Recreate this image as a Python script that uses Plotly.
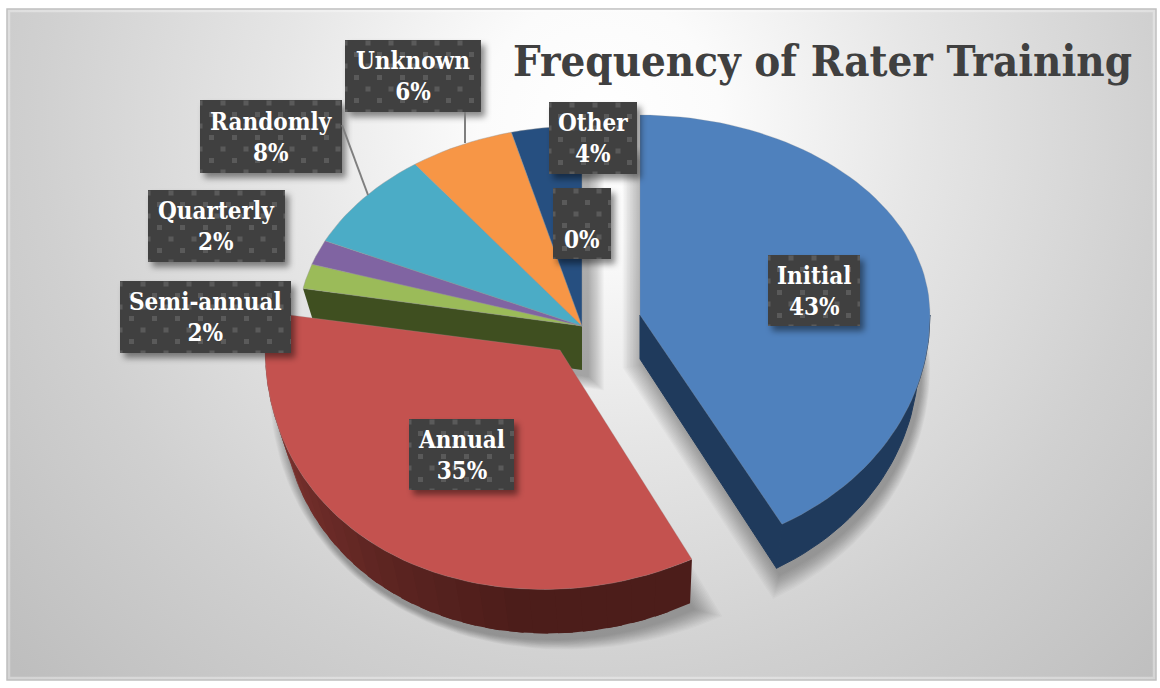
import base64
import math
import plotly.graph_objects as go

# ---- data ----
categories = ["Initial", "Annual", "Semi-annual", "Quarterly", "Randomly", "Unknown", "Other", ""]
shares = [43, 35, 2, 2, 8, 6, 4, 0]
title_text = "Frequency of Rater Training"

# ---- styles / layout ----
top_colors = ["#4f81bd", "#c4524f", "#9bbb59", "#8064a2", "#4bacc6", "#f79646", "#264f80", "#264f80"]
apexes = [(640, 315), (560, 350), (582, 326), (582, 326), (582, 326), (582, 326), (582, 326), (582, 326)]
radii_x = [290, 295, 284, 284, 284, 284, 284, 284]
label_boxes = [(768, 255, 860, 326), (409, 419, 514, 490), (120, 281, 291, 353), (148, 190, 285, 262),
               (200, 100, 342, 173), (345, 40, 481, 112), (549, 102, 637, 174), (553, 188, 611, 259)]
leaders = [((465, 112), (465, 143)), ((342, 125), (368, 195))]
RY, PERSP, VX, DEPTH, SHRINK = 200, 0.165, 645, 44, 0.96
SERIF = "'DejaVu Serif Condensed', 'Liberation Serif', serif"


def top_pt(ax, ay, deg, rx):
    t = math.radians(deg)
    u, v = math.sin(t), math.cos(t)
    w = 1 - PERSP * v * v if v < 0 else 1
    return VX + (ax + rx * u - VX) / w, ay - RY * v / w


def bot_pt(ax, ay, deg, rx):
    x, y = top_pt(ax, ay, deg, rx)
    return VX + (x - VX) * SHRINK, y + DEPTH


def arc(ax, ay, a0, a1, rx, fn=top_pt):
    n = max(2, int(abs(a1 - a0) / 2))
    return [fn(ax, ay, a0 + (a1 - a0) * i / n, rx) for i in range(n + 1)]


def poly(pts, fill, line=None, lw=0.0):
    xs = [p[0] for p in pts] + [pts[0][0]]
    ys = [p[1] for p in pts] + [pts[0][1]]
    return go.Scatter(x=xs, y=ys, mode="lines", fill="toself", fillcolor=fill,
                      line=dict(color=line or "rgba(0,0,0,0)", width=lw),
                      hoverinfo="skip", showlegend=False)


def lerp_col(c0, c1, f):
    return "rgb(%d,%d,%d)" % tuple(round(a + (b - a) * f) for a, b in zip(c0, c1))


# angular spans from the shares
spans = []
acc = 0.0
total = sum(shares)
for s in shares:
    spans.append((acc, acc + 360.0 * s / total))
    acc += 360.0 * s / total

fig = go.Figure()

# soft shadows
groups = [(apexes[0], radii_x[0], spans[0][0], spans[0][1]),
          (apexes[1], radii_x[1], spans[1][0], spans[1][1]),
          (apexes[2], radii_x[2], spans[2][0], spans[6][1])]
for (ax, ay), rx, a0, a1 in groups:
    outline = arc(ax, ay, a0, a1, rx, bot_pt) + [(VX + (ax - VX) * SHRINK, ay + DEPTH)]
    cx = sum(p[0] for p in outline) / len(outline)
    cy = sum(p[1] for p in outline) / len(outline)
    for i in range(14, 0, -1):
        k = 1 + 0.0075 * i
        pts = [(cx + (x - cx) * k + 3, cy + (y - cy) * k + 6) for x, y in outline]
        fig.add_trace(poly(pts, "rgba(0,0,0,0.024)"))

# main group: front wall of last radial edge, then its tops
ax, ay = apexes[2]
rx = radii_x[2]
a_left = spans[2][0]
fig.add_trace(poly([(ax, ay), top_pt(ax, ay, a_left, rx), bot_pt(ax, ay, a_left, rx), (ax, ay + DEPTH)], "#3f4f20"))
for i in range(2, 8):
    if shares[i] == 0:
        continue
    a0, a1 = spans[i]
    ax, ay = apexes[i]
    fig.add_trace(poly([(ax, ay)] + arc(ax, ay, a0, a1, radii_x[i]), top_colors[i], "rgba(150,150,150,0.7)", 0.6))

# Initial slice: wall along the front radial edge and the rim, then the top
ax, ay = apexes[0]
rx = radii_x[0]
a0, a1 = spans[0]
fig.add_trace(poly([(ax, ay), top_pt(ax, ay, a1, rx), bot_pt(ax, ay, a1, rx), (ax, ay + DEPTH)], "#1f3a5c", "#1f3a5c", 1))
fig.add_trace(poly(arc(ax, ay, 90, a1, rx) + arc(ax, ay, a1, 90, rx, bot_pt), "#1f3a5c", "#1f3a5c", 1))
fig.add_trace(poly([(ax, ay)] + arc(ax, ay, a0, a1, rx), top_colors[0], "rgba(150,150,150,0.5)", 0.5))

# Annual slice: shaded rim (each piece overlaps the next one), then the top
ax, ay = apexes[1]
rx = radii_x[1]
a0, a1 = spans[1]
n_seg = 30
rim_a0, rim_a1 = a0, 280.0
for j in range(n_seg - 1, -1, -1):
    b0 = rim_a0 + (rim_a1 - rim_a0) * j / n_seg
    b1 = rim_a0 + (rim_a1 - rim_a0) * (j + 1.6) / n_seg
    b1 = min(b1, rim_a1)
    f = max(0.0, (j / (n_seg - 1) - 0.2) / 0.8)
    col = lerp_col((76, 29, 26), (150, 62, 58), f ** 1.1)
    fig.add_trace(poly(arc(ax, ay, b0, b1, rx) + arc(ax, ay, b1, b0, rx, bot_pt), col))
fig.add_trace(poly([(ax, ay)] + arc(ax, ay, a0, a1, rx), top_colors[1], "rgba(150,150,150,0.5)", 0.5))


# ---- backgrounds / label plates ----
def svg_uri(svg):
    return "data:image/svg+xml;base64," + base64.b64encode(svg.encode()).decode()


bg_svg = (
    '<svg xmlns="http://www.w3.org/2000/svg" width="1160" height="688">'
    '<defs><radialGradient id="g" gradientUnits="userSpaceOnUse" cx="600" cy="120" r="800">'
    '<stop offset="0" stop-color="#ffffff"/><stop offset="0.15" stop-color="#fbfbfb"/>'
    '<stop offset="0.4" stop-color="#e6e6e6"/><stop offset="0.7" stop-color="#d0d0d0"/>'
    '<stop offset="1" stop-color="#bebebe"/>'
    '</radialGradient></defs>'
    '<rect width="1160" height="688" fill="#ffffff"/>'
    '<rect x="7" y="9" width="1149" height="671" fill="url(#g)" stroke="#bfbfbf" stroke-width="1.5"/>'
    '<rect x="9" y="11" width="1145" height="667" fill="none" stroke="#ffffff" stroke-opacity="0.35" stroke-width="2.5"/>'
    '</svg>'
)
images = [dict(source=svg_uri(bg_svg), xref="x", yref="y", x=0, y=0, sizex=1160, sizey=688,
               sizing="stretch", xanchor="left", yanchor="top", layer="below")]

PAD = 14
for x0, y0, x1, y1 in label_boxes:
    w, h = x1 - x0, y1 - y0
    svg = (
        f'<svg xmlns="http://www.w3.org/2000/svg" width="{w + 2 * PAD}" height="{h + 2 * PAD}">'
        '<defs><filter id="b" x="-30%" y="-30%" width="160%" height="160%">'
        '<feGaussianBlur stdDeviation="3"/></filter>'
        '<pattern id="d" width="23" height="23" patternUnits="userSpaceOnUse">'
        '<rect x="0" y="3" width="5" height="5" fill="#5a5a5a"/>'
        '<rect x="11.5" y="14.5" width="5" height="5" fill="#5a5a5a"/></pattern></defs>'
        f'<rect x="{PAD + 4}" y="{PAD + 5}" width="{w}" height="{h}" fill="#000" fill-opacity="0.45" filter="url(#b)"/>'
        f'<rect x="{PAD}" y="{PAD}" width="{w}" height="{h}" fill="#404040"/>'
        f'<rect x="{PAD}" y="{PAD}" width="{w}" height="{h}" fill="url(#d)"/>'
        '</svg>'
    )
    images.append(dict(source=svg_uri(svg), xref="x", yref="y", x=x0 - PAD, y=y0 - PAD,
                       sizex=w + 2 * PAD, sizey=h + 2 * PAD, sizing="stretch",
                       xanchor="left", yanchor="top", layer="above"))

annotations = [dict(text=title_text, x=822.5, y=60, xref="x", yref="y", showarrow=False,
                    font=dict(family=SERIF, size=43.4, color="#404040", weight="bold"))]
for name, s, (x0, y0, x1, y1) in zip(categories, shares, label_boxes):
    txt = f"{name}<br>{s}%" if name else f" <br>{s}%"
    annotations.append(dict(text=txt, x=(x0 + x1) / 2, y=(y0 + y1) / 2, xref="x", yref="y",
                            showarrow=False, align="center",
                            font=dict(family=SERIF, size=24, color="#ffffff", weight="bold")))

shapes = [dict(type="line", x0=a[0], y0=a[1], x1=b[0], y1=b[1], xref="x", yref="y",
               line=dict(color="#7f7f7f", width=2), layer="above") for a, b in leaders]

fig.update_layout(
    width=1160, height=688, autosize=False,
    margin=dict(l=0, r=0, t=0, b=0, pad=0),
    paper_bgcolor="#ffffff", plot_bgcolor="rgba(0,0,0,0)",
    xaxis=dict(range=[0, 1160], visible=False, fixedrange=True),
    yaxis=dict(range=[688, 0], visible=False, fixedrange=True),
    showlegend=False, images=images, annotations=annotations, shapes=shapes,
)
fig.write_html("out.html", config={"displayModeBar": False},
               post_script="document.body.style.margin='0';document.documentElement.style.overflow='hidden';")
